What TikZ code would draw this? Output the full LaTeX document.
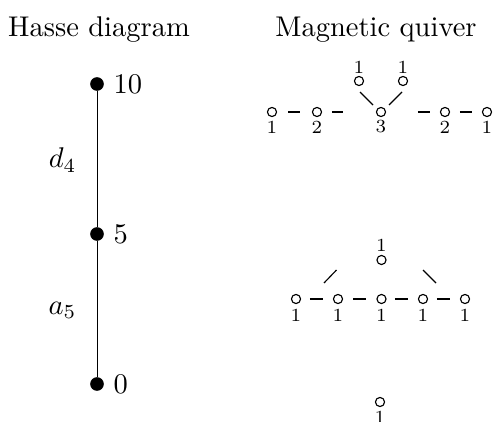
\documentclass[tikz,border=0pt]{standalone}
\usetikzlibrary{calc}
\begin{document}
\begin{tikzpicture}[x=0.3509pt,y=-0.3509pt,
  qv/.style={circle,draw,line width=0.4pt,inner sep=0pt,minimum size=3.2pt},
  ql/.style={font=\fontsize{6.5}{7}\selectfont,inner sep=0pt},
  hd/.style={circle,fill,inner sep=0pt,minimum size=4.8pt},
  hl/.style={inner sep=0pt,anchor=west},
  el/.style={inner sep=0pt,anchor=east},
  qedge/.style={line width=0.4pt},
  title/.style={anchor=base,inner sep=0pt}]
\useasboundingbox (0,0) rectangle (495,421);
% titles
\node[title] (th) at (99,36) {Hasse diagram};
\node[title] (tm) at (376,36) {Magnetic quiver};
% Hasse diagram
\node[hd] (h10) at (97,84) {};
\node[hd] (h5) at (97,234) {};
\node[hd] (h0) at (97,384) {};
\draw[line width=0.35pt] (h10) -- (h5) -- (h0);
\node[hl] (l10) at (113,84) {10};
\node[hl] (l5) at (113,234) {5};
\node[hl] (l0) at (113,384) {0};
\node[el] (ld) at (77,160) {$d_4$};
\node[el] (la) at (77,310) {$a_5$};
% quiver 1
\foreach \n/\x/\t in {1/272/1,2/317/2,3/381/3,4/445/2,5/487/1}{
  \node[qv] (a\n) at (\x,112) {};
  \node[ql] (al\n) at (\x,127) {\t};
}
\node[qv] (at1) at (359,81) {};
\node[qv] (at2) at (403,81) {};
\node[ql] (atl1) at (359,67) {1};
\node[ql] (atl2) at (403,67) {1};
\draw[qedge] ($(a1)!0.356!(a2)$) -- ($(a1)!0.622!(a2)$);
\draw[qedge] ($(a2)!0.234!(a3)$) -- ($(a2)!0.406!(a3)$);
\draw[qedge] ($(a3)!0.578!(a4)$) -- ($(a3)!0.766!(a4)$);
\draw[qedge] ($(a4)!0.357!(a5)$) -- ($(a4)!0.643!(a5)$);
\draw[qedge] ($(at1)+(1,11)$) -- ($(at1)+(14,24)$);
\draw[qedge] ($(at2)+(-1,11)$) -- ($(at2)+(-14,24)$);
% quiver 2
\foreach \n/\x in {1/296,2/338,3/381.5,4/423,5/465}{
  \node[qv] (b\n) at (\x,299) {};
  \node[ql] (bl\n) at (\x,315) {1};
}
\node[qv] (bt) at (381.5,260) {};
\node[ql] (btl) at (381.5,245) {1};
\draw[qedge] ($(b1)!0.333!(b2)$) -- ($(b1)!0.643!(b2)$);
\draw[qedge] ($(b2)!0.345!(b3)$) -- ($(b2)!0.644!(b3)$);
\draw[qedge] ($(b3)!0.325!(b4)$) -- ($(b3)!0.638!(b4)$);
\draw[qedge] ($(b4)!0.333!(b5)$) -- ($(b4)!0.643!(b5)$);
\draw[qedge] ($(b2)+(-1.5,-29)$) -- ($(b2)+(-14,-16)$);
\draw[qedge] ($(b4)+(0,-29)$) -- ($(b4)+(13,-16)$);
% quiver 3
\node[qv] (c1) at (380,402) {};
\node[ql] (cl1) at (380,417) {1};
\end{tikzpicture}
\end{document}
